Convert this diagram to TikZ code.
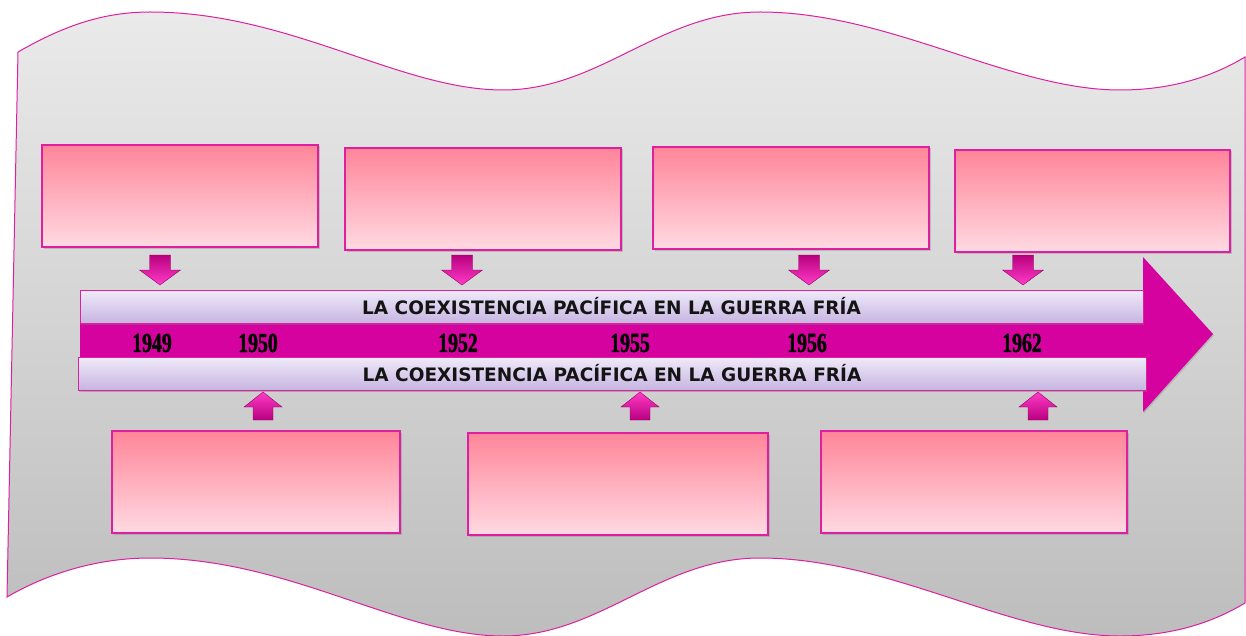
\documentclass[tikz,border=0pt]{standalone}
\usepackage{fontspec}
\setmainfont{Liberation Serif}
\newfontfamily\barfont{DejaVu Sans}
\newfontfamily\yearfont{Liberation Serif}[BoldFeatures={FakeBold=1.6}]
\usetikzlibrary{shadows}
\definecolor{mag}{HTML}{DD1FA0}
\definecolor{arrowmag}{HTML}{D6029F}
\definecolor{pinktop}{HTML}{FF8599}
\definecolor{pinkbot}{HTML}{FFDAE2}
\definecolor{lavtop}{HTML}{EFEAF9}
\definecolor{lavbot}{HTML}{C7B5E1}
\definecolor{bgtop}{HTML}{EAEAEA}
\definecolor{bgbot}{HTML}{BDBDBD}
\definecolor{adark}{HTML}{B8007E}
\definecolor{alight}{HTML}{FF3CC8}
\definecolor{txtdark}{HTML}{141414}
\tikzset{
  pbox/.style={draw=mag, line width=1.2pt, top color=pinktop, bottom color=pinkbot,
    minimum height=102pt, inner sep=0pt,
    drop shadow={opacity=0.35, shadow xshift=1.5pt, shadow yshift=-1.5pt}},
  lbar/.style={draw=mag, line width=1pt, top color=lavtop, bottom color=lavbot,
    minimum height=33pt, inner sep=0pt, text=txtdark,
    font=\barfont\bfseries\fontsize{18.5}{18.5}\selectfont,
    drop shadow={opacity=0.35, shadow xshift=1pt, shadow yshift=-1.5pt}},
  year/.style={inner sep=0pt, text=black, font=\yearfont\bfseries\fontsize{27.5}{27.5}\selectfont},
  darrow/.pic={\shade[top color=adark, bottom color=alight, draw=adark!80!black, line width=0.4pt]
    (-10.5,0) -- (10.5,0) -- (10.5,15) -- (20.5,15) -- (0,30) -- (-20.5,15) -- (-10.5,15) -- cycle;},
  uarrow/.pic={\shade[top color=alight, bottom color=adark, draw=adark!80!black, line width=0.4pt]
    (0,0) -- (19,15) -- (10,15) -- (10,28) -- (-10,28) -- (-10,15) -- (-19,15) -- cycle;}
}
\newcommand{\yr}[1]{\scalebox{0.72}[1]{#1}}
\begin{document}
\begin{tikzpicture}[x=1pt,y=-1pt]
\useasboundingbox (0,0) rectangle (1246,636);
% wavy background sheet
\shade[top color=bgtop, bottom color=bgbot, draw=mag, line width=1pt]
  (18,52) .. controls (60,28) and (100,12) .. (150,12)
  .. controls (290,12) and (400,90) .. (503,90)
  .. controls (600,90) and (660,12) .. (760,12)
  .. controls (890,12) and (1010,90) .. (1120,90)
  .. controls (1180,90) and (1220,72) .. (1245,57)
  -- (1245,603)
  .. controls (1220,618) and (1180,636) .. (1120,636)
  .. controls (1010,636) and (890,558) .. (760,558)
  .. controls (660,558) and (600,636) .. (503,636)
  .. controls (400,636) and (290,558) .. (150,558)
  .. controls (100,558) and (50,572) .. (7,597)
  -- cycle;
% top boxes
\node[pbox, minimum width=276pt] (t1) at (180,196) {};
\node[pbox, minimum width=276pt] (t2) at (483,199) {};
\node[pbox, minimum width=276pt] (t3) at (791,198) {};
\node[pbox, minimum width=275pt] (t4) at (1092.5,201) {};
% bottom boxes
\node[pbox, minimum width=288pt] (b1) at (256,482) {};
\node[pbox, minimum width=300pt] (b2) at (618,484) {};
\node[pbox, minimum width=306pt] (b3) at (974,482) {};
% big timeline arrow
\fill[arrowmag, drop shadow={opacity=0.3, shadow xshift=1pt, shadow yshift=-1.5pt}]
  (80,290) -- (1143,290) -- (1143,257) -- (1213,334) -- (1143,412) -- (1143,390) -- (80,390) -- cycle;
% lavender bars
\node[lbar, minimum width=1063pt] (bar1) at (611.5,306.5) {LA COEXISTENCIA PACÍFICA EN LA GUERRA FRÍA};
\node[lbar, minimum width=1068pt] (bar2) at (612,373.5) {LA COEXISTENCIA PACÍFICA EN LA GUERRA FRÍA};
% years
\node[year] (y1949) at (152,343) {\yr{1949}};
\node[year] (y1950) at (258,343) {\yr{1950}};
\node[year] (y1952) at (458,343) {\yr{1952}};
\node[year] (y1955) at (630,343) {\yr{1955}};
\node[year] (y1956) at (807,343) {\yr{1956}};
\node[year] (y1962) at (1022,343) {\yr{1962}};
% small down arrows
\pic at (160,255) {darrow};
\pic at (462,255) {darrow};
\pic at (809,255) {darrow};
\pic at (1023,255) {darrow};
% small up arrows
\pic at (263,392) {uarrow};
\pic at (640,392) {uarrow};
\pic at (1038,392) {uarrow};
\end{tikzpicture}
\end{document}
